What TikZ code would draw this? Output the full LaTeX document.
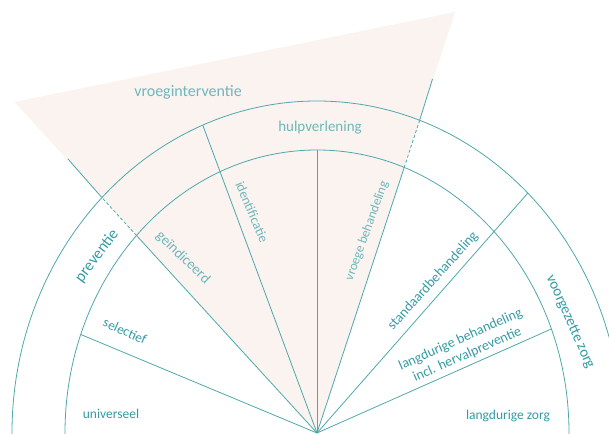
\documentclass[tikz,border=0pt]{standalone}
\usepackage{fontspec}
\setmainfont{Carlito}
\definecolor{tealline}{RGB}{78,168,172}
\definecolor{tealdark}{RGB}{52,155,162}
\definecolor{teallight}{RGB}{110,183,187}
\definecolor{pinkbg}{RGB}{250,243,239}
\newcommand{\fs}[2]{\fontsize{#1}{#2}\selectfont}
\begin{document}
\begin{tikzpicture}[x=1pt,y=-1pt,
  ln/.style={draw=tealline, line width=0.8pt},
  dsh/.style={draw=tealline, line width=0.8pt, dash pattern=on 3pt off 2.2pt},
  lbl/.style={inner sep=0pt, text=tealdark},
  lbll/.style={inner sep=0pt, text=teallight}]
\useasboundingbox (0,0) rectangle (609,433);
\clip (0,0) rectangle (609,433);
\coordinate (O) at (317,433);
% ray end points
\coordinate (r1i) at (80.8,334.5);
\coordinate (r2i) at (136.5,235.5);
\coordinate (r2o) at (101.9,197.6);
\coordinate (r2e) at (68,159);
\coordinate (r2f) at (14.6,102);
\coordinate (r3o) at (202.8,125.2);
\coordinate (r4i) at (317,150);
\coordinate (r5i) at (404.2,167.5);
\coordinate (r5o) at (419.6,120.4);
\coordinate (r5e) at (432.5,79);
\coordinate (r5f) at (455.2,12);
\coordinate (r6o) at (527.8,193.1);
\coordinate (r7i) at (551.3,329);
% pink wedge
\fill[pinkbg] (O) -- (r2f) -- (r5f) -- cycle;
% arcs
\draw[ln] (O) ellipse [x radius=252, y radius=283];
\draw[ln] (O) ellipse [x radius=305, y radius=332];
% rays
\draw[ln] (O) -- (r1i);
\draw[ln] (O) -- (r2i);
\draw[dsh] (r2i) -- (r2o);
\draw[ln] (r2o) -- (r2e);
\draw[ln] (O) -- (r3o);
\draw[ln] (O) -- (r4i);
\draw[ln] (O) -- (r5i);
\draw[dsh] (r5i) -- (r5o);
\draw[ln] (r5o) -- (r5e);
\draw[ln] (O) -- (r6o);
\draw[ln] (O) -- (r7i);
% labels
\node[lbll, font=\fs{16}{19}] (tvi) at (188,92) {vroeginterventie};
\node[lbll, font=\fs{15}{18}] (thv) at (320,128) {hulpverlening};
\node[lbl, font=\fs{16}{19}, rotate=53] (tpr) at (97,256) {preventie};
\node[lbl, font=\fs{13.5}{16}, rotate=-24] (tse) at (125,331) {selectief};
\node[lbl, font=\fs{13.5}{16}] (tun) at (111,414) {universeel};
\node[lbll, font=\fs{14.5}{17}, rotate=-44] (tge) at (183,258) {geïndiceerd};
\node[lbll, font=\fs{13.5}{16}, rotate=-67] (tid) at (252,212) {identificatie};
\node[lbll, font=\fs{13}{15}, rotate=70] (tvb) at (367,231) {vroege behandeling};
\node[lbl, font=\fs{14}{17}, rotate=48] (tst) at (433,281) {standaardbehandeling};
\node[lbl, font=\fs{14}{16.5}, rotate=24, align=center] (tlb) at (464,347) {langdurige behandeling\\incl. hervalpreventie};
\node[lbl, font=\fs{15}{18}, rotate=-66] (tvz) at (570,322) {voorgezette zorg};
\node[lbl, font=\fs{13.5}{16}] (tlz) at (508,416) {langdurige zorg};
\end{tikzpicture}
\end{document}
